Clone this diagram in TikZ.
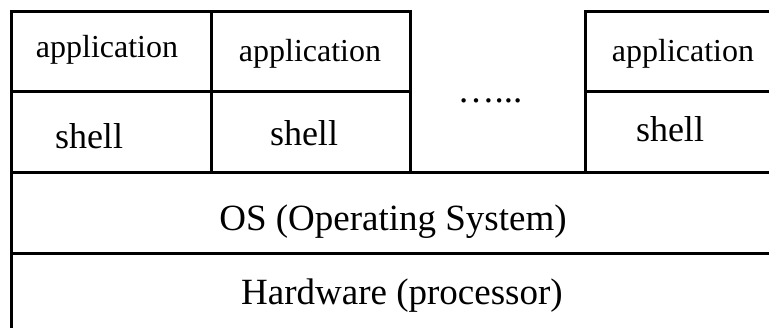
\documentclass[tikz,border=0pt]{standalone}
\usepackage{fontspec}
\setmainfont{Liberation Serif}
\usetikzlibrary{positioning}

\begin{document}
\begin{tikzpicture}[
    x=1pt, y=-1pt,
    layerBox/.style={rectangle, draw=black, line width=3.2pt, fill=white, anchor=north west, inner sep=0pt},
    appText/.style={anchor=base, inner sep=0pt, font=\fontsize{32}{36}\selectfont},
    shellText/.style={anchor=base, inner sep=0pt, font=\fontsize{36}{40}\selectfont},
    layerText/.style={anchor=base, inner sep=0pt, font=\fontsize{37}{42}\selectfont}
]
    \useasboundingbox (0,0) rectangle (769,328);
    \clip (0,0) rectangle (769,328);

    % bottom layers
    \node[layerBox, minimum width=790pt, minimum height=81pt] (os) at (10,171) {};
    \node[layerBox, minimum width=790pt, minimum height=90pt] (hw) at (10,252) {};

    % application / shell columns
    \node[layerBox, minimum width=199.5pt, minimum height=80pt] (app1) at (10,10) {};
    \node[layerBox, minimum width=199.5pt, minimum height=81pt] (shell1) at (10,90) {};
    \node[layerBox, minimum width=199pt, minimum height=80pt] (app2) at (209.5,10) {};
    \node[layerBox, minimum width=199pt, minimum height=81pt] (shell2) at (209.5,90) {};
    \node[layerBox, minimum width=216pt, minimum height=80pt] (app3) at (584,10) {};
    \node[layerBox, minimum width=216pt, minimum height=81pt] (shell3) at (584,90) {};

    % labels
    \node[appText] (appLabel1) at (107,58) {application};
    \node[shellText] (shellLabel1) at (89,149) {shell};
    \node[appText] (appLabel2) at (310,62) {application};
    \node[shellText] (shellLabel2) at (304,146) {shell};
    \node[appText] (appLabel3) at (683,62) {application};
    \node[shellText] (shellLabel3) at (670,142) {shell};
    \node[layerText] (dots) at (490,103) {…...};
    \node[layerText] (osLabel) at (393,231) {OS (Operating System)};
    \node[layerText] (hwLabel) at (402,305) {Hardware (processor)};
\end{tikzpicture}
\end{document}
